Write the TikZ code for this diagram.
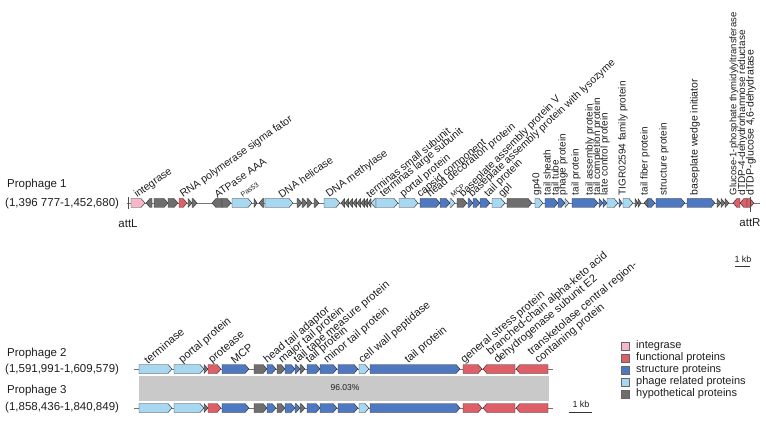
\documentclass[tikz,border=0pt]{standalone}
\usepackage{fontspec}
\setmainfont{Liberation Sans}
\definecolor{cInt}{HTML}{F6B8C9}
\definecolor{cFun}{HTML}{DF5F68}
\definecolor{cStr}{HTML}{4E78C0}
\definecolor{cPha}{HTML}{A8D7F2}
\definecolor{cHyp}{HTML}{6E6E6E}
\definecolor{cBand}{HTML}{C9C9C9}
\definecolor{cTxt}{HTML}{1E1E1E}
\newcommand{\geneR}[4]{\pgfmathsetmacro\gh{min(4,#2-#1)}\draw[gene,fill=#4] (#1,#3-4.5) -- (#2-\gh,#3-4.5) -- (#2,#3) -- (#2-\gh,#3+4.5) -- (#1,#3+4.5) -- cycle;}
\newcommand{\geneL}[4]{\pgfmathsetmacro\gh{min(4,#2-#1)}\draw[gene,fill=#4] (#2,#3-4.5) -- (#1+\gh,#3-4.5) -- (#1,#3) -- (#1+\gh,#3+4.5) -- (#2,#3+4.5) -- cycle;}
\begin{document}
\begin{tikzpicture}[x=1pt,y=-1pt,
  gene/.style={draw=black!80,line width=0.45pt,line join=round},
  backbone/.style={draw=black!55,line width=0.7pt},
  lab/.style={font=\fontsize{10.5}{10.5}\selectfont,text=cTxt,anchor=west,inner sep=0.5pt},
  vlab/.style={font=\fontsize{10}{10}\selectfont,text=cTxt,anchor=west,inner sep=0.5pt,rotate=90},
  plab/.style={font=\fontsize{11}{11}\selectfont,text=cTxt,anchor=west,inner sep=0.5pt,rotate=40},
  tiny/.style={font=\fontsize{7}{7}\selectfont,text=cTxt,anchor=west,inner sep=0.5pt},
  rowlab/.style={font=\fontsize{11.5}{12}\selectfont,text=cTxt,anchor=west,inner sep=0pt},
  leg/.style={font=\fontsize{11}{12}\selectfont,text=cTxt,anchor=west,inner sep=0pt},
  legbox/.style={draw=black!60,line width=0.4pt,minimum size=8.5pt,inner sep=0pt}]
\useasboundingbox (0,0) rectangle (766,422);

% ---------------- Prophage 1 ----------------
\node[rowlab] (p1name) at (7,185) {Prophage 1};
\node[rowlab] (p1pos) at (5,204) {(1,396 777-1,452,680)};
\draw[backbone] (127,203) -- (760,203);
\draw[black!70,line width=0.6pt] (128,197) -- (128,209);
\node[rowlab,anchor=center] (attL) at (128,224) {attL};

\geneR{131}{145}{203}{cInt}
\geneL{146}{152}{203}{cHyp}
\geneR{154}{168}{203}{cHyp}
\geneR{168}{178}{203}{cHyp}
\geneR{179}{187}{203}{cFun}
\geneR{188}{192}{203}{cHyp}
\geneR{192}{197}{203}{cHyp}
\geneL{212}{222}{203}{cHyp}
\geneR{222}{231}{203}{cHyp}
\geneR{232}{252}{203}{cPha}
\geneR{254}{257}{203}{cHyp}
\geneL{259}{264}{203}{cHyp}
\geneR{265}{293}{203}{cPha}
\geneR{297}{302}{203}{cHyp}
\geneR{302}{307}{203}{cHyp}
\geneR{307}{312}{203}{cHyp}
\geneR{314}{319}{203}{cHyp}
\geneR{324}{340}{203}{cPha}
\foreach \a in {341,345,349,353,357,361,364}{\geneL{\a}{\a+3.6}{203}{cHyp}}
\geneL{368}{371}{203}{cHyp}
\geneL{371}{376}{203}{cPha}
\geneR{376}{398}{203}{cPha}
\geneR{399}{418}{203}{cPha}
\geneR{420}{440}{203}{cStr}
\geneR{440}{450}{203}{cStr}
\geneR{450}{455}{203}{cPha}
\geneR{457}{467}{203}{cHyp}
\geneR{468}{473}{203}{cStr}
\geneR{473}{480}{203}{cStr}
\geneR{480}{490}{203}{cStr}
\geneR{492}{505}{203}{cPha}
\geneR{507}{532}{203}{cHyp}
\geneR{535}{543}{203}{cPha}
\geneR{545}{558}{203}{cStr}
\geneR{558}{565}{203}{cStr}
\geneR{565}{569}{203}{cPha}
\geneR{572}{598}{203}{cStr}
\geneR{599}{603}{203}{cStr}
\geneR{603}{607}{203}{cStr}
\geneR{607}{618}{203}{cPha}
\geneR{619}{622}{203}{cStr}
\geneR{623}{633}{203}{cPha}
\geneR{635}{638}{203}{cHyp}
\geneR{638}{641}{203}{cHyp}
\geneL{644}{648}{203}{cHyp}
\geneR{648}{655}{203}{cStr}
\geneR{656}{685}{203}{cStr}
\geneR{687}{715}{203}{cStr}
\geneR{717}{721}{203}{cHyp}
\geneR{721}{725}{203}{cHyp}
\geneR{725}{729}{203}{cHyp}
\geneL{733}{740}{203}{cFun}
\geneL{740}{747}{203}{cFun}
\geneR{747}{754}{203}{cFun}
\draw[black!70,line width=0.6pt] (750,197) -- (750,212);
\node[rowlab,anchor=center] (attR) at (750,223) {attR};

% labels prophage 1 (angled)
\node[lab,rotate=35] (a1) at (135,196) {integrase};
\node[lab,rotate=35] (a2) at (181,196) {RNA polymerase sigma fator};
\node[lab,rotate=35] (a3) at (215,196) {ATPase AAA};
\node[tiny,rotate=35] (a4) at (241,196) {Pas53};
\node[lab,rotate=35] (a5) at (279,196) {DNA helicase};
\node[lab,rotate=36] (a6) at (327,196) {DNA methylase};
\node[lab,rotate=39] (a7) at (367,196) {terminas small subunit};
\node[lab,rotate=39] (a8) at (381,196) {terminas large subunit};
\node[lab,rotate=39] (a9) at (401,196) {portal protein};
\node[lab,rotate=39] (a10) at (418,196) {capsid component};
\node[lab,rotate=39] (a11) at (428,196) {head decoration protein};
\node[tiny,rotate=39] (a12) at (451,196) {MCP};
\node[lab,rotate=45] (a13) at (461,196) {baseplate assembly protein V};
\node[lab,rotate=43] (a14) at (470,196) {baseplate assembly protein with lysozyme};
\node[lab,rotate=45] (a15) at (486,196) {tail protein};
\node[lab,rotate=45] (a16) at (500,196) {gpI};
% vertical labels
\node[vlab] (v1) at (537,196) {gp40};
\node[vlab] (v2) at (547,196) {tail sheath};
\node[vlab] (v3) at (555,196) {tail tube};
\node[vlab] (v4) at (563,196) {phage protein};
\node[vlab] (v5) at (576,196) {tail protein};
\node[vlab] (v6) at (590,196) {tail assembly protein};
\node[vlab] (v7) at (597.5,196) {tail completion protein};
\node[vlab] (v8) at (605,196) {late control protein};
\node[vlab] (v9) at (623,196) {TIGR02594 family protein};
\node[vlab] (v10) at (645,196) {tail fiber protein};
\node[vlab] (v11) at (664,196) {structure protein};
\node[vlab,font=\fontsize{10.5}{10.5}\selectfont] (v12) at (695,196) {baseplate wedge initiator};
\node[vlab,font=\fontsize{9.5}{9.5}\selectfont] (v13) at (734,196) {Glucose-1-phosphate thymidylyltransferase};
\node[vlab] (v14) at (742.5,196) {dTDP-4-dehydrorhamnose reductase};
\node[vlab,font=\fontsize{10.5}{10.5}\selectfont] (v15) at (751,196) {dTDP-glucose 4,6-dehydratase};

% scale bar 1
\node[font=\fontsize{9}{9}\selectfont,text=cTxt,inner sep=0pt] (kb1) at (743,259) {1 kb};
\coordinate (sb1a) at (735,266);
\coordinate (sb1b) at (750,266);
\draw[black!80,line width=0.6pt] (sb1a) -- (sb1b);

% ---------------- Prophage 2 / 3 ----------------
\fill[cBand] (139,376) rectangle (549,401);
\node[font=\fontsize{8.5}{9}\selectfont,text=cTxt,inner sep=0pt] (pid) at (345,388) {96.03\%};

\node[rowlab] (p2name) at (7,354) {Prophage 2};
\node[rowlab] (p2pos) at (5,370) {(1,591,991-1,609,579)};
\node[rowlab] (p3name) at (7,391) {Prophage 3};
\node[rowlab] (p3pos) at (5,408) {(1,858,436-1,840,849)};

\foreach \yy in {369,408}{
  \draw[backbone] (134,\yy) -- (553,\yy);
  \geneR{139}{172}{\yy}{cPha}
  \geneR{174}{204}{\yy}{cPha}
  \geneR{204}{208}{\yy}{cHyp}
  \geneR{208}{221}{\yy}{cFun}
  \geneR{222}{249}{\yy}{cStr}
  \geneR{254}{267}{\yy}{cHyp}
  \geneR{267}{276}{\yy}{cStr}
  \geneR{277}{285}{\yy}{cHyp}
  \geneR{285}{295}{\yy}{cStr}
  \geneR{295}{300}{\yy}{cStr}
  \geneR{300}{305}{\yy}{cHyp}
  \geneR{307}{320}{\yy}{cStr}
  \geneR{320}{337}{\yy}{cStr}
  \geneR{338}{358}{\yy}{cStr}
  \geneR{359}{369}{\yy}{cPha}
  \geneR{370}{460}{\yy}{cStr}
  \geneR{463}{482}{\yy}{cFun}
  \geneL{483}{515}{\yy}{cFun}
  \geneL{516}{548}{\yy}{cFun}
}

\node[plab] (b1) at (145,362) {terminase};
\node[plab] (b2) at (180,362) {portal protein};
\node[plab] (b3) at (210,362) {protease};
\node[plab] (b4) at (232,362) {MCP};
\node[plab] (b5) at (265,362) {head tail adaptor};
\node[plab] (b6) at (280,362) {major tail protein};
\node[plab] (b7) at (295,362) {tail tape measure protein};
\node[plab] (b8) at (307,362) {tail protein};
\node[plab] (b9) at (325,362) {minor tail protein};
\node[plab] (b10) at (360,362) {cell wall peptidase};
\node[plab] (b11) at (406,362) {tail protein};
\node[plab] (b12) at (462,362) {general stress protein};
\node[plab,anchor=south west,align=left,inner sep=0pt,font=\fontsize{11}{9.5}\selectfont] (b13) at (499,366) {branched-chain alpha-keto acid\\dehydrogenase subunit E2};
\node[plab,anchor=south west,align=left,inner sep=0pt,font=\fontsize{11}{9.5}\selectfont] (b14) at (540,366) {transketolase central region-\\containing protein};

% scale bar 2
\node[font=\fontsize{9}{9}\selectfont,text=cTxt,inner sep=0pt] (kb2) at (581,404) {1 kb};
\coordinate (sb2a) at (569,412);
\coordinate (sb2b) at (592,412);
\draw[black!80,line width=0.6pt] (sb2a) -- (sb2b);

% ---------------- Legend ----------------
\node[legbox,fill=cInt] (k1) at (625,346) {};
\node[leg] (t1) at (636,346) {integrase};
\node[legbox,fill=cFun] (k2) at (625,358) {};
\node[leg] (t2) at (636,358) {functional proteins};
\node[legbox,fill=cStr] (k3) at (625,370) {};
\node[leg] (t3) at (636,370) {structure proteins};
\node[legbox,fill=cPha] (k4) at (625,382) {};
\node[leg] (t4) at (636,382) {phage related proteins};
\node[legbox,fill=cHyp] (k5) at (625,394) {};
\node[leg] (t5) at (636,394) {hypothetical proteins};
\end{tikzpicture}
\end{document}
